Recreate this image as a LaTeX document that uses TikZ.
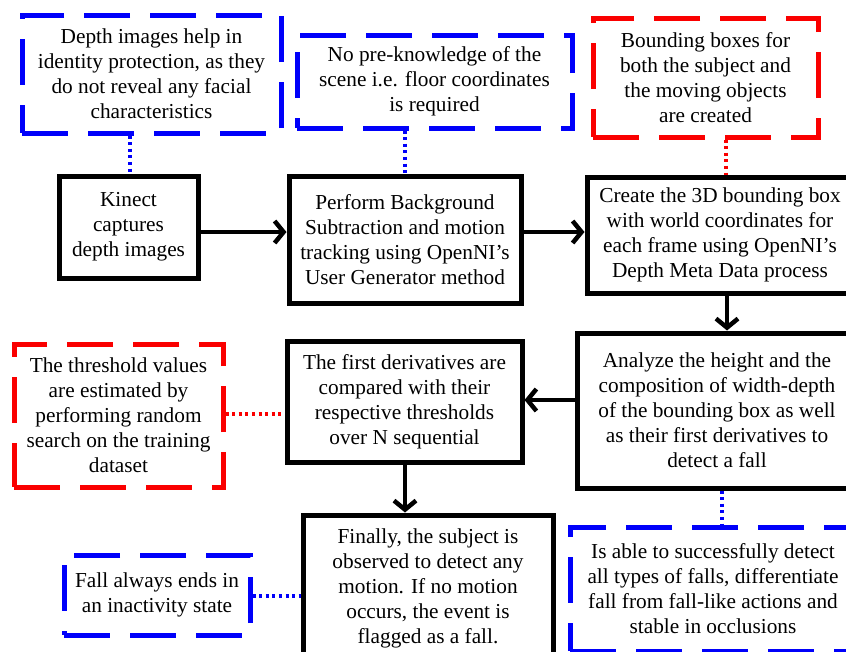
\documentclass[tikz,border=0pt]{standalone}
\usepackage{fontspec}
\setmainfont{Liberation Serif}
\usetikzlibrary{arrows.meta}
\definecolor{nblue}{RGB}{0,0,250}
\definecolor{nred}{RGB}{250,0,0}
\begin{document}
\begin{tikzpicture}[x=1pt,y=1pt,
  every node/.style={font=\fontsize{21.3}{25}\selectfont, align=center, inner sep=0pt, rectangle},
  procbox/.style={draw=black, line width=5pt, fill=white},
  bluenote/.style={draw=nblue, line width=5pt, dash pattern=on 46pt off 20pt, fill=white},
  rednote/.style={draw=nred, line width=5pt, dash pattern=on 46pt off 20pt, fill=white},
  flow/.style={draw=black, line width=4.5pt, -{Straight Barb[length=9pt,width=22pt]}},
  bluedot/.style={draw=nblue, line width=3.2pt, dash pattern=on 3pt off 3.6pt},
  reddot/.style={draw=nred, line width=3.2pt, dash pattern=on 3pt off 3.6pt}
]
\useasboundingbox (0,0) rectangle (846,-651);
\fill[white] (0,0) rectangle (846,-651);

% notes
\node[bluenote, minimum width=259pt, minimum height=118pt] (na) at (151.5,-74)
  {Depth images help in\\identity protection, as they\\do not reveal any facial\\characteristics};
\node[bluenote, minimum width=275pt, minimum height=93pt] (nb) at (434.5,-81.5)
  {No pre-knowledge of the\\scene i.e. floor coordinates\\is required};
\node[rednote, minimum width=225pt, minimum height=119pt] (nc) at (705.5,-77.5)
  {Bounding boxes for\\both the subject and\\the moving objects\\are created};
\node[rednote, minimum width=209pt, minimum height=143pt] (nd) at (118.5,-415.5)
  {The threshold values\\are estimated by\\performing random\\search on the training\\dataset};
\node[bluenote, minimum width=186pt, minimum height=80pt] (ne) at (157,-595)
  {Fall always ends in\\an inactivity state};
\node[bluenote, minimum width=286pt, minimum height=124pt] (nf) at (713,-589)
  {Is able to successfully detect\\all types of falls, differentiate\\fall from fall-like actions and\\stable in occlusions};

% process boxes
\node[procbox, minimum width=139pt, minimum height=102pt] (kin) at (128.5,-227)
  {Kinect\\captures\\depth images};
\node[procbox, minimum width=232pt, minimum height=127pt] (bg) at (405,-239.5)
  {Perform Background\\Subtraction and motion\\tracking using OpenNI’s\\User Generator method};
\node[procbox, minimum width=266pt, minimum height=116pt] (cr) at (720,-235)
  {Create the 3D bounding box\\with world coordinates for\\each frame using OpenNI’s\\Depth Meta Data process};
\node[procbox, minimum width=280pt, minimum height=155pt] (an) at (717,-410.5)
  {Analyze the height and the\\composition of width-depth\\of the bounding box as well\\as their first derivatives to\\detect a fall};
\node[procbox, minimum width=235pt, minimum height=121pt] (fd) at (404.5,-401.5)
  {The first derivatives are\\compared with their\\respective thresholds\\over N sequential};
\node[procbox, minimum width=250pt, minimum height=147pt] (fi) at (428,-588.5)
  {Finally, the subject is\\observed to detect any\\motion. If no motion\\occurs, the event is\\flagged as a fall.};

% flow arrows
\draw[flow] ([yshift=-5pt]kin.east) -- ([yshift=7.5pt]bg.west);
\draw[flow] ([yshift=7.5pt]bg.east) -- ([yshift=3pt]cr.west);
\draw[flow] ([xshift=7pt]cr.south) -- ([xshift=10pt]an.north);
\draw[flow] ([yshift=10.5pt]an.west) -- ([yshift=1.5pt]fd.east);
\draw[flow] ([xshift=0.5pt]fd.south) -- ([xshift=-23pt]fi.north);

% dotted links
\draw[bluedot] ([xshift=-21.5pt]na.south) -- ([xshift=1.5pt]kin.north);
\draw[bluedot] ([xshift=-29.5pt]nb.south) -- (bg.north);
\draw[reddot] ([xshift=20.5pt]nc.south) -- ([xshift=6pt]cr.north);
\draw[reddot] ([yshift=1.5pt]nd.east) -- ([yshift=-12.5pt]fd.west);
\draw[bluedot] ([yshift=-1pt]ne.east) -- ([yshift=-7.5pt]fi.west);
\draw[bluedot] ([xshift=5pt]an.south) -- ([xshift=9pt]nf.north);
\end{tikzpicture}
\end{document}
